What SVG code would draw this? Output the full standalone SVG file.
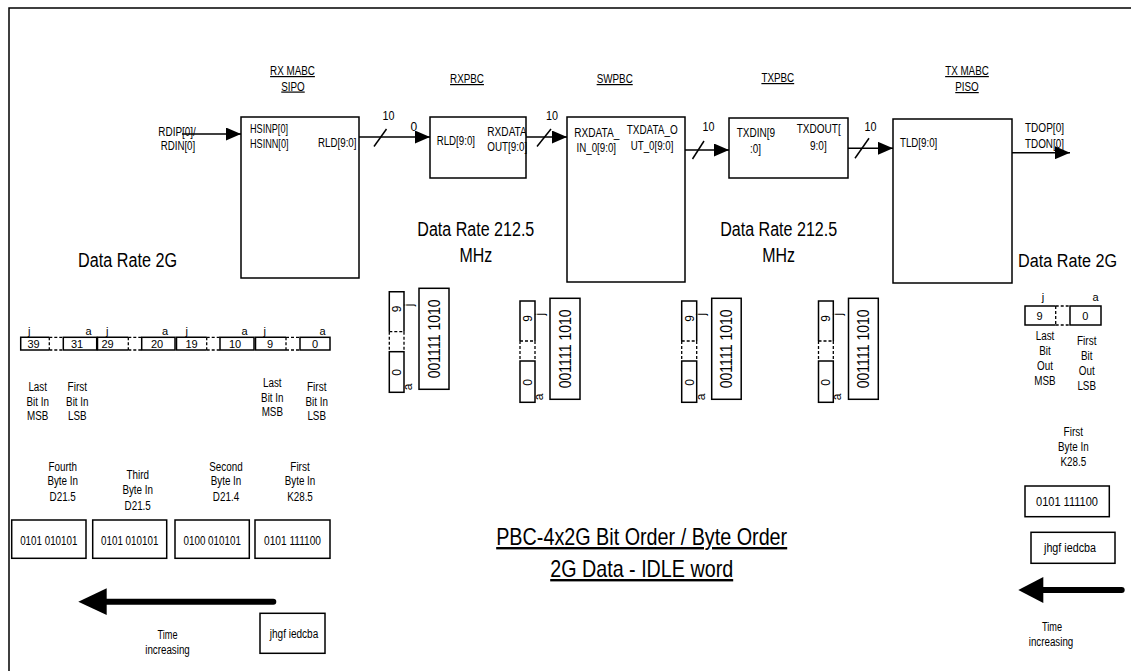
<svg xmlns="http://www.w3.org/2000/svg" width="1131" height="671" viewBox="0 0 1131 671">
<style>
text{font-family:"Liberation Sans",Arial,sans-serif;fill:#000}
.s{font-size:12px}
.d{font-size:11px}
.l{font-size:20px}
.tt{font-size:24px;text-decoration:underline}
.u{text-decoration:underline}
.m{text-anchor:middle}
.e{text-anchor:end}
.v{font-size:16px}
.bx{fill:none;stroke:#000;stroke-width:1.5}
.ds{fill:none;stroke:#000;stroke-width:1.3;stroke-dasharray:3 2}
.ln{fill:none;stroke:#000;stroke-width:1.5}
.big{fill:none;stroke:#000;stroke-width:6;stroke-linecap:round}
</style>
<defs>
<marker id="ah" markerUnits="userSpaceOnUse" markerWidth="16" markerHeight="13" refX="15" refY="6.5" orient="auto"><path d="M0,0 L15,6.5 L0,13 z" fill="#000"/></marker>
</defs>
<rect width="1131" height="671" fill="#fff"/>
<g id="frame"><path class="bx" d="M9,671 V8 H1131"/></g>

<g id="rx-mabc">
<rect class="bx" x="241" y="117" width="118" height="161"/>
<text class="s m u" x="292.5" y="75" textLength="44.8" lengthAdjust="spacingAndGlyphs">RX MABC</text>
<text class="s m u" x="293" y="90.5" textLength="23.5" lengthAdjust="spacingAndGlyphs">SIPO</text>
<text class="s" x="250" y="133" textLength="38" lengthAdjust="spacingAndGlyphs">HSINP[0]</text>
<text class="s" x="250" y="148" textLength="38.5" lengthAdjust="spacingAndGlyphs">HSINN[0]</text>
<text class="s e" x="356.5" y="146.5" textLength="38.5" lengthAdjust="spacingAndGlyphs">RLD[9:0]</text>
</g>
<g id="rdip">
<text class="s" x="158.3" y="135.5" textLength="37.5" lengthAdjust="spacingAndGlyphs">RDIP[0]/</text>
<text class="s" x="160.7" y="149.5" textLength="34.5" lengthAdjust="spacingAndGlyphs">RDIN[0]</text>
</g>
<g id="rxpbc">
<rect class="bx" x="430" y="117" width="96" height="61"/>
<text class="s m u" x="467" y="83" textLength="33.9" lengthAdjust="spacingAndGlyphs">RXPBC</text>
<text class="s" x="436.7" y="144.5" textLength="38.3" lengthAdjust="spacingAndGlyphs">RLD[9:0]</text>
<text class="s" x="487.3" y="136" textLength="39.5" lengthAdjust="spacingAndGlyphs">RXDATA</text>
<text class="s" x="487.3" y="151" textLength="39.9" lengthAdjust="spacingAndGlyphs">OUT[9:0]</text>
</g>
<g id="swpbc">
<rect class="bx" x="567" y="117" width="118" height="165"/>
<text class="s m u" x="614.7" y="83" textLength="36.1" lengthAdjust="spacingAndGlyphs">SWPBC</text>
<text class="s" x="574.3" y="137" textLength="45" lengthAdjust="spacingAndGlyphs">RXDATA_</text>
<text class="s" x="576.5" y="151.5" textLength="39.5" lengthAdjust="spacingAndGlyphs">IN_0[9:0]</text>
<text class="s" x="626.7" y="134" textLength="51" lengthAdjust="spacingAndGlyphs">TXDATA_O</text>
<text class="s" x="630.7" y="149.5" textLength="42.7" lengthAdjust="spacingAndGlyphs">UT_0[9:0]</text>
</g>
<g id="txpbc">
<rect class="bx" x="729" y="118" width="119" height="60"/>
<text class="s m u" x="777.8" y="82" textLength="32.8" lengthAdjust="spacingAndGlyphs">TXPBC</text>
<text class="s" x="736.7" y="137" textLength="38.3" lengthAdjust="spacingAndGlyphs">TXDIN[9</text>
<text class="s" x="750" y="153" textLength="11" lengthAdjust="spacingAndGlyphs">:0]</text>
<text class="s" x="796.7" y="133" textLength="44" lengthAdjust="spacingAndGlyphs">TXDOUT[</text>
<text class="s" x="810" y="149.5" textLength="16.7" lengthAdjust="spacingAndGlyphs">9:0]</text>
</g>
<g id="tx-mabc">
<rect class="bx" x="893" y="119" width="119" height="164"/>
<text class="s m u" x="967" y="75" textLength="43.7" lengthAdjust="spacingAndGlyphs">TX MABC</text>
<text class="s m u" x="967" y="91" textLength="23.5" lengthAdjust="spacingAndGlyphs">PISO</text>
<text class="s" x="900" y="147" textLength="37.3" lengthAdjust="spacingAndGlyphs">TLD[9:0]</text>
</g>
<g id="tdop">
<text class="s" x="1025" y="131.5" textLength="39" lengthAdjust="spacingAndGlyphs">TDOP[0]</text>
<text class="s" x="1025" y="148" textLength="39" lengthAdjust="spacingAndGlyphs">TDON[0]</text>
</g>

<g id="connectors">
<line class="ln" x1="182" y1="134" x2="241" y2="134" marker-end="url(#ah)"/>
<line class="ln" x1="359" y1="137" x2="430" y2="137" marker-end="url(#ah)"/>
<line class="ln" x1="374" y1="146.5" x2="386.5" y2="129"/>
<line class="ln" x1="526" y1="137" x2="567" y2="137" marker-end="url(#ah)"/>
<line class="ln" x1="537" y1="146.5" x2="551" y2="129"/>
<line class="ln" x1="685" y1="150" x2="729" y2="150" marker-end="url(#ah)"/>
<line class="ln" x1="692.5" y1="159" x2="704" y2="141"/>
<line class="ln" x1="848" y1="148.3" x2="893" y2="148.3" marker-end="url(#ah)"/>
<line class="ln" x1="855" y1="158.3" x2="869" y2="138.3"/>
<line class="ln" x1="1012" y1="152.7" x2="1070" y2="152.7" marker-end="url(#ah)"/>
<text class="s m" x="388.5" y="120" textLength="12" lengthAdjust="spacingAndGlyphs">10</text>
<text class="s" x="410.5" y="131">0</text>
<text class="s m" x="552" y="120" textLength="12" lengthAdjust="spacingAndGlyphs">10</text>
<text class="s m" x="708.5" y="131" textLength="12" lengthAdjust="spacingAndGlyphs">10</text>
<text class="s m" x="870.5" y="131" textLength="12" lengthAdjust="spacingAndGlyphs">10</text>
</g>

<g id="rates">
<text class="l" x="78" y="267" textLength="99" lengthAdjust="spacingAndGlyphs">Data Rate 2G</text>
<text x="1018" y="267" font-size="18" textLength="99" lengthAdjust="spacingAndGlyphs">Data Rate 2G</text>
<text class="l m" x="475.8" y="236" textLength="117" lengthAdjust="spacingAndGlyphs">Data Rate 212.5</text>
<text class="l m" x="475.8" y="261.7" textLength="32.7" lengthAdjust="spacingAndGlyphs">MHz</text>
<text class="l m" x="778.7" y="236" textLength="117" lengthAdjust="spacingAndGlyphs">Data Rate 212.5</text>
<text class="l m" x="778.7" y="261.7" textLength="32.7" lengthAdjust="spacingAndGlyphs">MHz</text>
</g>

<g id="vword1">
<path class="bx" d="M389.3,331.7 V291.7 H404 V331.7"/>
<path class="ds" d="M389.3,331.7 H404 M389.3,331.7 V351.7 M404,331.7 V351.7"/>
<rect class="bx" x="389.3" y="351.7" width="14.7" height="40.6"/>
<text class="s m" transform="translate(401,309) rotate(-90)">9</text>
<text class="s m" transform="translate(401,372.3) rotate(-90)">0</text>
<text class="s" transform="translate(412.5,306.2) rotate(-90)">j</text>
<text class="s" transform="translate(412,390.3) rotate(-90)">a</text>
<rect class="bx" x="419" y="288.3" width="30" height="101"/>
<text class="v m" transform="translate(439.7,338.8) rotate(-90)" textLength="79" lengthAdjust="spacingAndGlyphs">001111 1010</text>
</g>
<g id="vword2">
<path class="bx" d="M520,341 V301 H535 V341"/>
<path class="ds" d="M520,341 H535 M520,341 V361 M535,341 V361"/>
<rect class="bx" x="520" y="361" width="15" height="41.3"/>
<text class="s m" transform="translate(531.8,318.3) rotate(-90)">9</text>
<text class="s m" transform="translate(531.8,382.3) rotate(-90)">0</text>
<text class="s" transform="translate(543.5,315.5) rotate(-90)">j</text>
<text class="s" transform="translate(543,400.3) rotate(-90)">a</text>
<rect class="bx" x="550" y="298.3" width="30" height="101"/>
<text class="v m" transform="translate(570.7,348.8) rotate(-90)" textLength="79" lengthAdjust="spacingAndGlyphs">001111 1010</text>
</g>
<g id="vword3">
<path class="bx" d="M681.7,341 V301 H696.7 V341"/>
<path class="ds" d="M681.7,341 H696.7 M681.7,341 V361 M696.7,341 V361"/>
<rect class="bx" x="681.7" y="361" width="15" height="41.3"/>
<text class="s m" transform="translate(693.5,318.3) rotate(-90)">9</text>
<text class="s m" transform="translate(693.5,382.3) rotate(-90)">0</text>
<text class="s" transform="translate(705.2,315.5) rotate(-90)">j</text>
<text class="s" transform="translate(704.7,400.3) rotate(-90)">a</text>
<rect class="bx" x="711.7" y="298.3" width="29.5" height="101"/>
<text class="v m" transform="translate(732.2,348.8) rotate(-90)" textLength="79" lengthAdjust="spacingAndGlyphs">001111 1010</text>
</g>
<g id="vword4">
<path class="bx" d="M818.5,341 V301 H833.3 V341"/>
<path class="ds" d="M818.5,341 H833.3 M818.5,341 V361 M833.3,341 V361"/>
<rect class="bx" x="818.5" y="361" width="14.8" height="41.3"/>
<text class="s m" transform="translate(830.2,318.3) rotate(-90)">9</text>
<text class="s m" transform="translate(830.2,382.3) rotate(-90)">0</text>
<text class="s" transform="translate(841.8,315.5) rotate(-90)">j</text>
<text class="s" transform="translate(841.3,400.3) rotate(-90)">a</text>
<rect class="bx" x="848.5" y="298.3" width="29.8" height="101"/>
<text class="v m" transform="translate(869.1,348.8) rotate(-90)" textLength="79" lengthAdjust="spacingAndGlyphs">001111 1010</text>
</g>

<g id="bits-in">
<path class="bx" d="M49.3,337.3 H20.7 V350 H49.3"/>
<path class="ds" d="M49.3,337.3 V350 M49.3,337.3 H63.3 M49.3,350 H63.3"/>
<rect class="bx" x="63.3" y="337.3" width="33.4" height="12.7"/>
<path class="bx" d="M128.3,337.3 H97.5 V350 H128.3"/>
<path class="ds" d="M128.3,337.3 V350 M128.3,337.3 H141.7 M128.3,350 H141.7"/>
<rect class="bx" x="141.7" y="337.3" width="33.3" height="12.7"/>
<path class="bx" d="M206.7,337.3 H176.5 V350 H206.7"/>
<path class="ds" d="M206.7,337.3 V350 M206.7,337.3 H220 M206.7,350 H220"/>
<rect class="bx" x="220" y="337.3" width="34" height="12.7"/>
<path class="bx" d="M286,337.3 H255.5 V350 H286"/>
<path class="ds" d="M286,337.3 V350 M286,337.3 H300 M286,350 H300"/>
<rect class="bx" x="300" y="337.3" width="30" height="12.7"/>
<text class="d m" x="33.5" y="347.8">39</text>
<text class="d m" x="77" y="347.8">31</text>
<text class="d m" x="107.5" y="347.8">29</text>
<text class="d m" x="157" y="347.8">20</text>
<text class="d m" x="191.5" y="347.8">19</text>
<text class="d m" x="235" y="347.8">10</text>
<text class="d m" x="270" y="347.8">9</text>
<text class="d m" x="315" y="347.8">0</text>
<text class="d" x="28" y="334.5">j</text>
<text class="d e" x="91.5" y="334.5">a</text>
<text class="d" x="106" y="334.5">j</text>
<text class="d e" x="168" y="334.5">a</text>
<text class="d" x="185.5" y="334.5">j</text>
<text class="d e" x="247.5" y="334.5">a</text>
<text class="d" x="263.5" y="334.5">j</text>
<text class="d e" x="325.5" y="334.5">a</text>
<text class="s m" x="37.7" y="391" textLength="18.6" lengthAdjust="spacingAndGlyphs">Last</text>
<text class="s m" x="37.7" y="405.5" textLength="22.4" lengthAdjust="spacingAndGlyphs">Bit In</text>
<text class="s m" x="37.7" y="420" textLength="21.3" lengthAdjust="spacingAndGlyphs">MSB</text>
<text class="s m" x="77.3" y="391" textLength="19.5" lengthAdjust="spacingAndGlyphs">First</text>
<text class="s m" x="77.3" y="405.5" textLength="22.4" lengthAdjust="spacingAndGlyphs">Bit In</text>
<text class="s m" x="77.3" y="420" textLength="18.6" lengthAdjust="spacingAndGlyphs">LSB</text>
<text class="s m" x="272.3" y="387" textLength="18.6" lengthAdjust="spacingAndGlyphs">Last</text>
<text class="s m" x="272.3" y="401.5" textLength="22.4" lengthAdjust="spacingAndGlyphs">Bit In</text>
<text class="s m" x="272.3" y="416" textLength="21.3" lengthAdjust="spacingAndGlyphs">MSB</text>
<text class="s m" x="316.7" y="391" textLength="19.5" lengthAdjust="spacingAndGlyphs">First</text>
<text class="s m" x="316.7" y="405.5" textLength="22.4" lengthAdjust="spacingAndGlyphs">Bit In</text>
<text class="s m" x="316.7" y="420" textLength="18.6" lengthAdjust="spacingAndGlyphs">LSB</text>
</g>

<g id="bytes-in">
<text class="s m" x="62.7" y="470.5" textLength="28.4" lengthAdjust="spacingAndGlyphs">Fourth</text>
<text class="s m" x="62.7" y="485" textLength="30.6" lengthAdjust="spacingAndGlyphs">Byte In</text>
<text class="s m" x="62.7" y="500.5" textLength="26.3" lengthAdjust="spacingAndGlyphs">D21.5</text>
<text class="s m" x="137.7" y="479" textLength="22.4" lengthAdjust="spacingAndGlyphs">Third</text>
<text class="s m" x="137.7" y="493.5" textLength="30.6" lengthAdjust="spacingAndGlyphs">Byte In</text>
<text class="s m" x="137.7" y="509.5" textLength="26.3" lengthAdjust="spacingAndGlyphs">D21.5</text>
<text class="s m" x="226" y="470.5" textLength="33.4" lengthAdjust="spacingAndGlyphs">Second</text>
<text class="s m" x="226" y="485" textLength="30.6" lengthAdjust="spacingAndGlyphs">Byte In</text>
<text class="s m" x="226" y="500.5" textLength="26.3" lengthAdjust="spacingAndGlyphs">D21.4</text>
<text class="s m" x="300" y="470.5" textLength="19.5" lengthAdjust="spacingAndGlyphs">First</text>
<text class="s m" x="300" y="485" textLength="30.6" lengthAdjust="spacingAndGlyphs">Byte In</text>
<text class="s m" x="300" y="500.5" textLength="25.7" lengthAdjust="spacingAndGlyphs">K28.5</text>
<rect class="bx" x="11.7" y="520" width="74.3" height="38.3"/>
<rect class="bx" x="92.7" y="520" width="74" height="38.3"/>
<rect class="bx" x="175" y="520" width="74.3" height="38.3"/>
<rect class="bx" x="255" y="520" width="75" height="38.3"/>
<text class="s m" x="48.8" y="544.5" textLength="57.3" lengthAdjust="spacingAndGlyphs">0101 010101</text>
<text class="s m" x="129.7" y="544.5" textLength="57.3" lengthAdjust="spacingAndGlyphs">0101 010101</text>
<text class="s m" x="212.2" y="544.5" textLength="57.3" lengthAdjust="spacingAndGlyphs">0100 010101</text>
<text class="s m" x="292.5" y="544.5" textLength="57" lengthAdjust="spacingAndGlyphs">0101 111100</text>
<path class="big" d="M273.3,601.7 H100"/>
<polygon points="78.3,601.7 106.7,588.3 106.7,615" fill="#000"/>
<rect class="bx" x="260" y="613.3" width="65" height="40"/>
<text class="s m" x="294" y="637.5" textLength="48.5" lengthAdjust="spacingAndGlyphs">jhgf iedcba</text>
<text class="s m" x="167.5" y="639" textLength="20" lengthAdjust="spacingAndGlyphs">Time</text>
<text class="s m" x="167.5" y="653.5" textLength="44.5" lengthAdjust="spacingAndGlyphs">increasing</text>
</g>

<g id="bits-out">
<path class="bx" d="M1055.7,306 H1025 V325 H1055.7"/>
<path class="ds" d="M1055.7,306 V325 M1055.7,306 H1070 M1055.7,325 H1070"/>
<rect class="bx" x="1070" y="306" width="31" height="19"/>
<text class="d m" x="1039.5" y="320">9</text>
<text class="d m" x="1085.3" y="320">0</text>
<text class="d" x="1041.7" y="301">j</text>
<text class="d e" x="1098.5" y="301">a</text>
<text class="s m" x="1045" y="340" textLength="18.6" lengthAdjust="spacingAndGlyphs">Last</text>
<text class="s m" x="1045" y="355" textLength="11.5" lengthAdjust="spacingAndGlyphs">Bit</text>
<text class="s m" x="1045" y="370" textLength="15.9" lengthAdjust="spacingAndGlyphs">Out</text>
<text class="s m" x="1045" y="385" textLength="21.3" lengthAdjust="spacingAndGlyphs">MSB</text>
<text class="s m" x="1086.7" y="345" textLength="19.5" lengthAdjust="spacingAndGlyphs">First</text>
<text class="s m" x="1086.7" y="360" textLength="11.5" lengthAdjust="spacingAndGlyphs">Bit</text>
<text class="s m" x="1086.7" y="375" textLength="15.9" lengthAdjust="spacingAndGlyphs">Out</text>
<text class="s m" x="1086.7" y="390" textLength="18.6" lengthAdjust="spacingAndGlyphs">LSB</text>
</g>

<g id="bytes-out">
<text class="s m" x="1073.3" y="436" textLength="19.5" lengthAdjust="spacingAndGlyphs">First</text>
<text class="s m" x="1073.3" y="451" textLength="30.6" lengthAdjust="spacingAndGlyphs">Byte In</text>
<text class="s m" x="1073.3" y="466" textLength="25.7" lengthAdjust="spacingAndGlyphs">K28.5</text>
<rect class="bx" x="1025" y="486" width="84.3" height="30.7"/>
<text class="s m" x="1067" y="505.5" textLength="62" lengthAdjust="spacingAndGlyphs">0101 111100</text>
<rect class="bx" x="1031" y="532.3" width="84" height="31"/>
<text class="s m" x="1070" y="552" textLength="52" lengthAdjust="spacingAndGlyphs">jhgf iedcba</text>
<path class="big" d="M1121.7,590 H1040"/>
<polygon points="1018.3,590 1043.3,577 1043.3,603" fill="#000"/>
<text class="s m" x="1052" y="631" textLength="20" lengthAdjust="spacingAndGlyphs">Time</text>
<text class="s m" x="1051" y="646" textLength="44.5" lengthAdjust="spacingAndGlyphs">increasing</text>
</g>

<g id="title">
<text class="tt m" x="641.7" y="545" textLength="291" lengthAdjust="spacingAndGlyphs">PBC-4x2G Bit Order / Byte Order</text>
<text class="tt m" x="641.7" y="577" textLength="183" lengthAdjust="spacingAndGlyphs">2G Data - IDLE word</text>
</g>
</svg>
